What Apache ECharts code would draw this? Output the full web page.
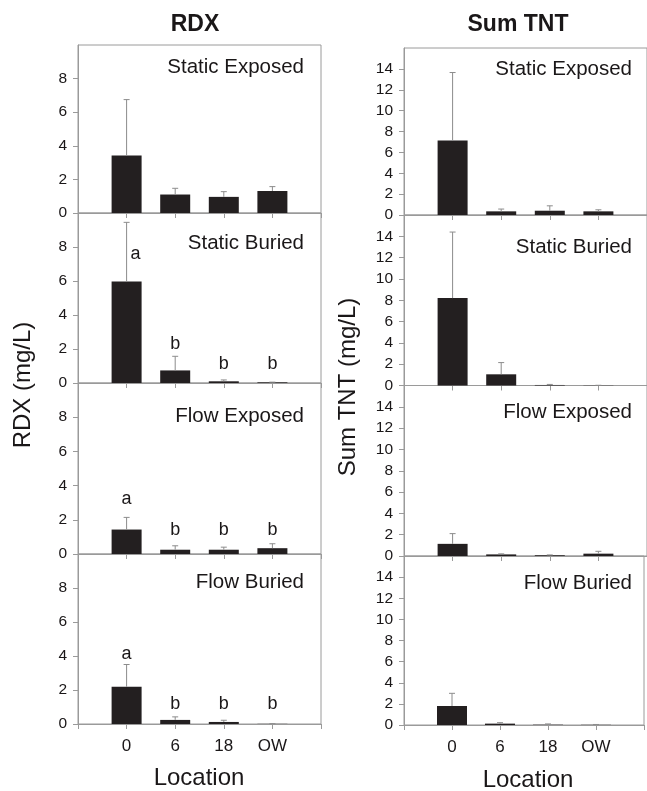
<!DOCTYPE html>
<html>
<head>
<meta charset="utf-8">
<script src="https://cdn.jsdelivr.net/npm/echarts@6/dist/echarts.min.js"></script>
<style>
  html, body { margin: 0; padding: 0; background: #fff; }
  #chart { width: 647px; height: 791px; }
</style>
</head>
<body>
<div id="chart"></div>
<script>
'use strict';

// data
var categories = ['0', '6', '18', 'OW'];
var panelNames = ['Static Exposed', 'Static Buried', 'Flow Exposed', 'Flow Buried'];

var rdxMean = [
    [3.43, 1.10, 0.96, 1.31],
    [5.97, 0.74, 0.10, 0.04],
    [1.43, 0.25, 0.25, 0.34],
    [2.19, 0.24, 0.12, 0.01]
];
var rdxUpper = [
    [6.75, 1.47, 1.27, 1.57],
    [9.45, 1.57, 0.18, 0.05],
    [2.14, 0.48, 0.40, 0.60],
    [3.50, 0.42, 0.22, 0.02]
];
var tntMean = [
    [7.14, 0.35, 0.41, 0.35],
    [8.20, 1.05, 0.05, 0.02],
    [1.14, 0.15, 0.07, 0.22],
    [1.80, 0.13, 0.03, 0.02]
];
var tntUpper = [
    [13.65, 0.57, 0.88, 0.50],
    [14.40, 2.15, 0.10, 0.02],
    [2.10, 0.20, 0.10, 0.44],
    [3.00, 0.22, 0.10, 0.05]
];

// significance letters (RDX only)
var rdxLetters = [null, ['a', 'b', 'b', 'b'], ['a', 'b', 'b', 'b'], ['a', 'b', 'b', 'b']];
var rdxLetterY = [null, [7.6, 2.3, 1.1, 1.1], [3.2, 1.4, 1.4, 1.4], [4.1, 1.15, 1.15, 1.15]];

var rdxTicks = [0, 2, 4, 6, 8];
var tntTicks = [0, 2, 4, 6, 8, 10, 12, 14];

var FONT = 'Liberation Sans, Arial, sans-serif';
var AXIS_COLOR = '#9a9a9a';
var BAR_COLOR = '#231f20';
var TEXT_COLOR = '#1a1718';

// panel boxes (left, top, width, height)
var leftBoxes = [[78, 45, 243, 168], [78, 213, 243, 170], [78, 383, 243, 171], [78, 554, 243, 170]];
var rightBoxes = [[404, 48, 244, 167], [404, 215, 244, 170.5], [404, 385.5, 244, 170.5], [404, 556, 244, 169]];

var chart = echarts.init(document.getElementById('chart'));

var grids = [], xAxes = [], yAxes = [], series = [], graphics = [];

function addPanel(box, mean, upper, max, ticks, showX, letters, letterY, name) {
    var idx = grids.length;
    grids.push({
        left: box[0], top: box[1], width: box[2], height: box[3],
        show: true, borderColor: AXIS_COLOR, borderWidth: 1
    });
    xAxes.push({
        gridIndex: idx,
        type: 'category',
        data: [''].concat(categories, ['']),
        boundaryGap: false,
        axisLine: { lineStyle: { color: AXIS_COLOR, width: 1 } },
        axisTick: { show: true, length: 5, interval: 0, lineStyle: { color: AXIS_COLOR } },
        axisLabel: {
            show: showX, interval: 0, margin: 14,
            fontSize: 17, color: TEXT_COLOR, fontFamily: FONT
        },
        splitLine: { show: false }
    });
    yAxes.push({
        gridIndex: idx,
        type: 'value',
        min: 0, max: max,
        axisLine: { show: true, lineStyle: { color: AXIS_COLOR, width: 1 } },
        axisTick: { show: true, length: 5, customValues: ticks, lineStyle: { color: AXIS_COLOR } },
        axisLabel: {
            customValues: ticks, margin: 11,
            fontSize: 15.5, color: TEXT_COLOR, fontFamily: FONT
        },
        splitLine: { show: false }
    });

    series.push({
        type: 'bar',
        xAxisIndex: idx, yAxisIndex: idx,
        barWidth: 30,
        itemStyle: { color: BAR_COLOR },
        data: [null].concat(mean, [null]),
        z: 2,
        silent: true
    });

    series.push({
        type: 'custom',
        xAxisIndex: idx, yAxisIndex: idx,
        data: mean.map(function (m, i) { return [i + 1, m, upper[i]]; }),
        encode: { x: 0, y: [1, 2] },
        z: 3,
        silent: true,
        renderItem: function (params, api) {
            var base = api.coord([api.value(0), api.value(1)]);
            var top = api.coord([api.value(0), api.value(2)]);
            var style = { stroke: '#8c8c8c', lineWidth: 1 };
            return {
                type: 'group',
                children: [
                    { type: 'line', shape: { x1: base[0], y1: base[1], x2: base[0], y2: top[1] }, style: style },
                    { type: 'line', shape: { x1: base[0] - 3, y1: top[1], x2: base[0] + 3, y2: top[1] }, style: style }
                ]
            };
        }
    });

    if (letters) {
        // drawn as text through the axis scales
        series.push({
            type: 'custom',
            xAxisIndex: idx, yAxisIndex: idx,
            silent: true,
            z: 4,
            data: letters.map(function (l, i) { return [i + 1, letterY[i], upper[i]]; }),
            encode: { x: 0, y: 1 },
            renderItem: function (params, api) {
                var p = api.coord([api.value(0), api.value(1)]);
                // letter sits beside the error bar when it would overlap it
                var dx = api.value(1) < api.value(2) ? 9 : 0;
                return {
                    type: 'text',
                    x: p[0] + dx, y: p[1],
                    style: {
                        text: letters[params.dataIndex],
                        align: 'center', verticalAlign: 'middle',
                        fontSize: 18, fill: TEXT_COLOR, fontFamily: FONT
                    }
                };
            }
        });
    }

    graphics.push({
        type: 'text',
        x: box[0] + box[2] - (box[0] > 300 ? 16 : 17),
        y: box[1] + name.dy,
        style: {
            text: name.text, align: 'right', verticalAlign: 'middle',
            fontSize: 20.5, fill: TEXT_COLOR, fontFamily: FONT
        }
    });
}

var leftLabelDy = [22, 30, 33, 28];
var rightLabelDy = [21, 32, 27, 27];

for (var i = 0; i < 4; i++) {
    addPanel(leftBoxes[i], rdxMean[i], rdxUpper[i], 10, rdxTicks, i === 3,
        rdxLetters[i], rdxLetterY[i], { text: panelNames[i], dy: leftLabelDy[i] });
}
for (var j = 0; j < 4; j++) {
    addPanel(rightBoxes[j], tntMean[j], tntUpper[j], 16, tntTicks, j === 3,
        null, null, { text: panelNames[j], dy: rightLabelDy[j] });
}

// column titles, axis names
graphics.push(
    { type: 'text', x: 195, y: 25, style: { text: 'RDX', align: 'center', verticalAlign: 'middle', fontSize: 23, fontWeight: 'bold', fill: TEXT_COLOR, fontFamily: FONT } },
    { type: 'text', x: 518, y: 25, style: { text: 'Sum TNT', align: 'center', verticalAlign: 'middle', fontSize: 23, fontWeight: 'bold', fill: TEXT_COLOR, fontFamily: FONT } },
    { type: 'text', x: 23, y: 385, rotation: Math.PI / 2, style: { text: 'RDX (mg/L)', align: 'center', verticalAlign: 'middle', fontSize: 24, fill: TEXT_COLOR, fontFamily: FONT } },
    { type: 'text', x: 348, y: 387, rotation: Math.PI / 2, style: { text: 'Sum TNT (mg/L)', align: 'center', verticalAlign: 'middle', fontSize: 24, fill: TEXT_COLOR, fontFamily: FONT } },
    { type: 'text', x: 199, y: 778, style: { text: 'Location', align: 'center', verticalAlign: 'middle', fontSize: 24, fill: TEXT_COLOR, fontFamily: FONT } },
    { type: 'text', x: 528, y: 780, style: { text: 'Location', align: 'center', verticalAlign: 'middle', fontSize: 24, fill: TEXT_COLOR, fontFamily: FONT } }
);

chart.setOption({
    animation: false,
    backgroundColor: '#fff',
    grid: grids,
    xAxis: xAxes,
    yAxis: yAxes,
    series: series,
    graphic: graphics
});
</script>
</body>
</html>
